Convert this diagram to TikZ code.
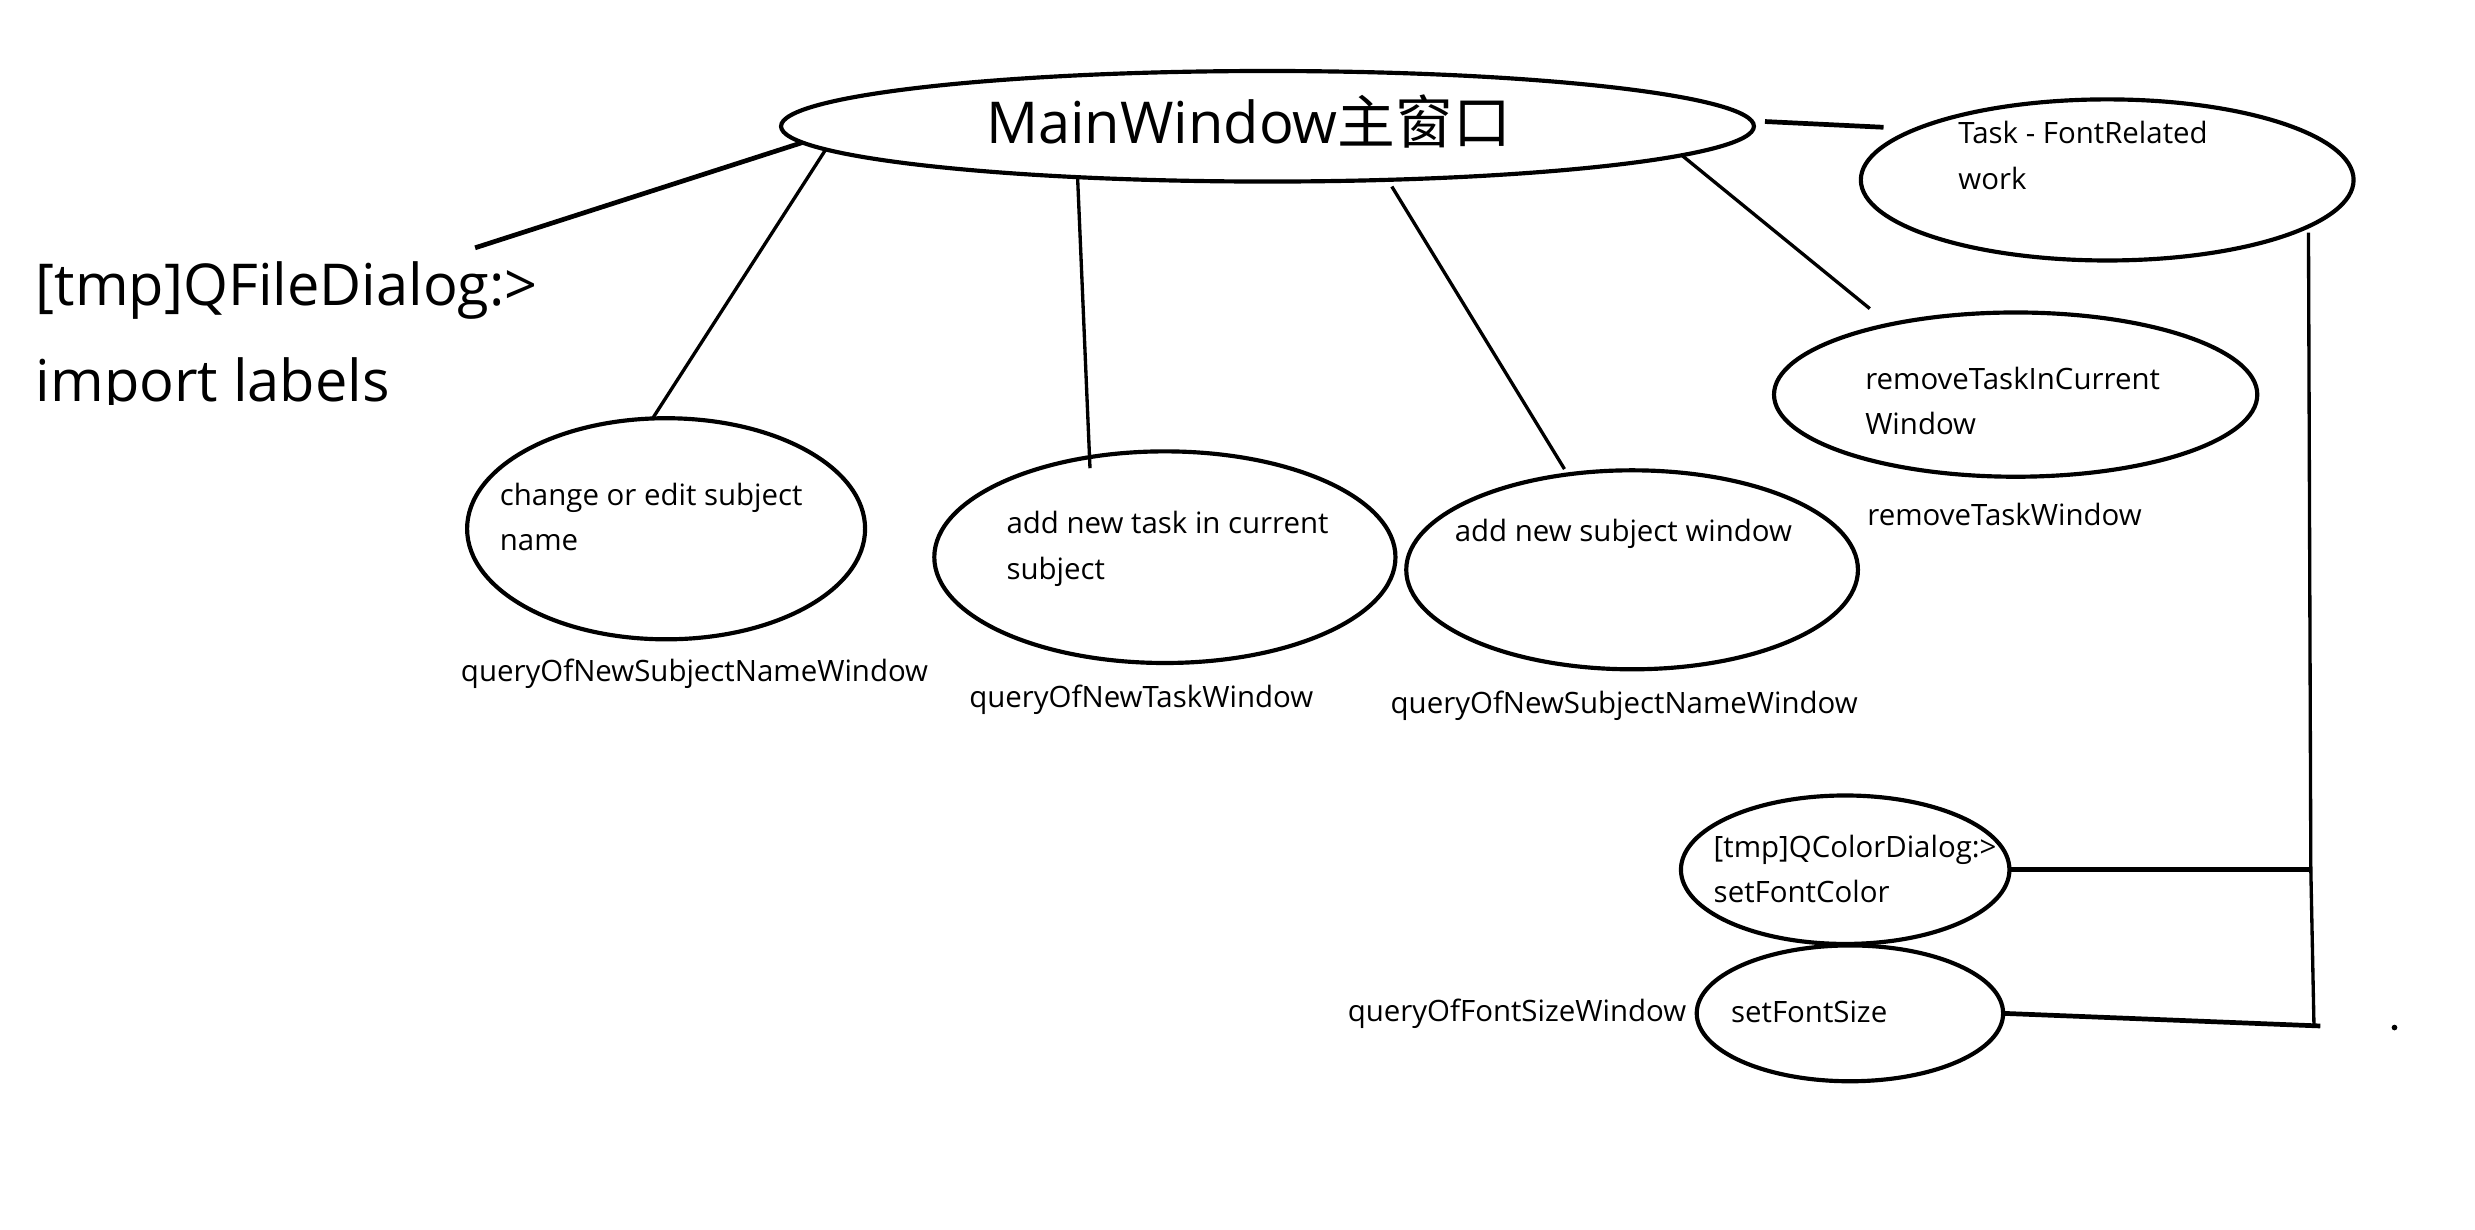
\documentclass[tikz,border=0pt]{standalone}
\usepackage{fontspec}
\setmainfont{Open Sans}
\newfontfamily\cjk{Noto Sans CJK SC}
\usetikzlibrary{shapes.geometric,positioning}

\begin{document}
\begin{tikzpicture}[x=0.01cm, y=-0.01cm,
    bubble/.style={ellipse, draw, line width=0.75pt, inner sep=0pt, outer sep=0pt},
    txt/.style={font=\fontsize{5.3}{8.25}\selectfont, align=left, inner sep=0pt, anchor=west},
    caption/.style={font=\fontsize{5.3}{8.25}\selectfont, inner sep=0pt},
    big/.style={font=\fontsize{10.4}{17.4}\selectfont, align=left, inner sep=0pt},
    link/.style={line width=0.6pt},
    thicklink/.style={line width=0.85pt}]
    \fill[white] (0,0) rectangle (1568,779);
    \useasboundingbox (0,0) rectangle (1568,779);

    % main window
    \node[bubble, minimum width=6.16cm, minimum height=0.70cm] (main) at (803,80) {};
    \node[big, anchor=base] (maintext) at (791,91) {MainWindow{\cjk 主窗口}};

    % file dialog note, cut off at the bottom
    \begin{scope}
        \clip (0,0) rectangle (420,256);
        \node[big, anchor=west] (qfile) at (22,214.5) {[tmp]QFileDialog:>\\import labels};
    \end{scope}
    \coordinate (qfend) at (301,157);

    % windows opened from the main window
    \node[bubble, minimum width=2.52cm, minimum height=1.40cm] (change) at (422,335) {};
    \node[txt] (changetext) at (316,327.5) {change or edit subject\\name};
    \node[caption, below=0.12cm of change, xshift=0.18cm] (changewin) {queryOfNewSubjectNameWindow};

    \node[bubble, minimum width=2.92cm, minimum height=1.34cm] (addtask) at (738,353) {};
    \node[txt] (addtasktext) at (637,347.5) {add new task in current\\subject};
    \node[caption, below=0.13cm of addtask, xshift=-0.15cm] (addtaskwin) {queryOfNewTaskWindow};

    \node[bubble, minimum width=2.86cm, minimum height=1.26cm] (addsub) at (1034,361) {};
    \node[txt] (addsubtext) at (921,338) {add new subject window};
    \node[caption, below=0.13cm of addsub, xshift=-0.05cm] (addsubwin) {queryOfNewSubjectNameWindow};

    \node[bubble, minimum width=3.06cm, minimum height=1.04cm] (remove) at (1277,250) {};
    \node[txt] (removetext) at (1181,254) {removeTaskInCurrent\\Window};
    \node[caption, below=0.16cm of remove, xshift=-0.07cm] (removewin) {removeTaskWindow};

    % font related work
    \node[bubble, minimum width=3.12cm, minimum height=1.02cm] (task) at (1335,114) {};
    \node[txt] (tasktext) at (1240,98.5) {Task - FontRelated\\work};

    \node[bubble, minimum width=2.08cm, minimum height=0.94cm] (color) at (1169,551) {};
    \node[txt] (colortext) at (1085,550.5) {[tmp]QColorDialog:>\\setFontColor};

    \node[bubble, minimum width=1.94cm, minimum height=0.86cm] (size) at (1172,642) {};
    \node[txt] (sizetext) at (1096,641) {setFontSize};
    \node[caption, left=0.06cm of size] (sizewin) {queryOfFontSizeWindow};

    \coordinate (jc) at (1464,551);
    \coordinate (js) at (1466,650);

    \draw[thicklink] (qfend) -- (main.182.2);
    \draw[link] (main.183.3) -- (change.97);
    \draw[link, shorten >=-0.07cm] (main.195.8) -- (addtask.127);
    \draw[link, shorten <=0.05cm, shorten >=0.04cm] (main.336.5) -- (addsub.124);
    \draw[link, shorten >=0.16cm] (main.356.1) -- (remove.151);
    \draw[thicklink, shorten >=0.21cm] ([xshift=0.07cm, yshift=0.03cm]main.east) -- (task.165);
    \draw[link, shorten <=0.04cm] (task.347) -- (jc) -- (js);
    \draw[thicklink] (color.east) -- (jc);
    \draw[thicklink] (size.east) -- ([xshift=0.04cm]js);
    \fill (1517,651) circle (1.8);
\end{tikzpicture}
\end{document}
